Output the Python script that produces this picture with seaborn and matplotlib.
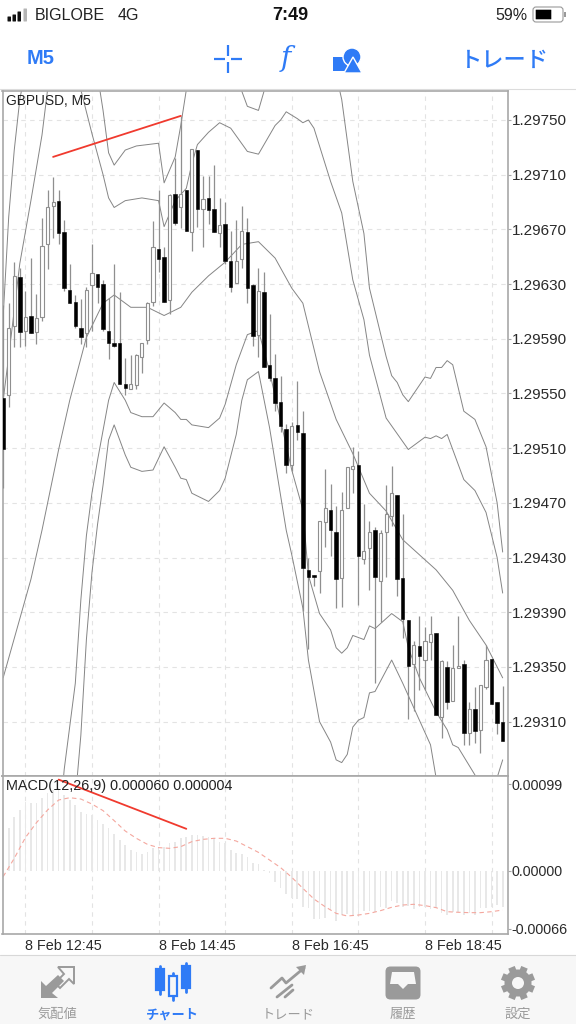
import matplotlib
matplotlib.use("Agg")
import matplotlib.pyplot as plt
import seaborn as sns
import numpy as np
import pandas as pd
from matplotlib.patches import Circle, FancyBboxPatch, Polygon, Rectangle

# candles, one entry per bar starting at bar -1; prices in points (1.29750 -> 29750)
bar_open = [29547, 29549, 29599, 29635, 29596, 29607, 29595, 29606, 29659, 29687, 29691, 29668, 29626, 29617, 29598, 29594,
            29629, 29637, 29630, 29596, 29587, 29587, 29557, 29553, 29556, 29577, 29589, 29617, 29656, 29650, 29618, 29696,
            29686, 29699, 29668, 29728, 29685, 29693, 29685, 29667, 29674, 29647, 29631, 29648, 29668, 29629, 29593, 29624,
            29571, 29561, 29544, 29524, 29498, 29527, 29521, 29421, 29417, 29420, 29456, 29465, 29449, 29415, 29466, 29495,
            29498, 29429, 29437, 29450, 29413, 29449, 29460, 29476, 29415, 29384, 29352, 29365, 29355, 29368, 29375, 29313,
            29350, 29325, 29349, 29352, 29302, 29319, 29304, 29335, 29356, 29324, 29310]
bar_high = [29615, 29616, 29646, 29642, 29625, 29649, 29623, 29678, 29699, 29708, 29699, 29677, 29645, 29622, 29619, 29628,
            29659, 29637, 29633, 29620, 29645, 29624, 29576, 29578, 29579, 29587, 29617, 29676, 29699, 29657, 29696, 29722,
            29753, 29699, 29729, 29728, 29709, 29709, 29717, 29693, 29690, 29669, 29677, 29687, 29678, 29630, 29642, 29639,
            29608, 29579, 29563, 29528, 29529, 29559, 29537, 29430, 29417, 29457, 29495, 29484, 29468, 29478, 29496, 29511,
            29508, 29469, 29457, 29452, 29450, 29483, 29497, 29476, 29462, 29384, 29369, 29387, 29379, 29387, 29375, 29355,
            29354, 29366, 29387, 29355, 29324, 29335, 29337, 29366, 29356, 29324, 29336]
bar_low = [29481, 29540, 29584, 29584, 29585, 29594, 29586, 29603, 29641, 29664, 29659, 29625, 29616, 29598, 29586, 29584,
           29596, 29616, 29596, 29575, 29584, 29557, 29549, 29553, 29553, 29565, 29586, 29614, 29639, 29617, 29608, 29673,
           29671, 29669, 29654, 29672, 29657, 29674, 29668, 29657, 29645, 29624, 29631, 29642, 29616, 29585, 29577, 29569,
           29559, 29537, 29522, 29492, 29493, 29516, 29391, 29363, 29409, 29404, 29438, 29431, 29393, 29394, 29466, 29477,
           29395, 29425, 29406, 29338, 29383, 29416, 29453, 29402, 29371, 29312, 29318, 29333, 29333, 29355, 29315, 29298,
           29319, 29325, 29349, 29293, 29293, 29294, 29287, 29334, 29323, 29301, 29296]
bar_close = [29509, 29598, 29636, 29595, 29606, 29594, 29605, 29658, 29686, 29690, 29667, 29627, 29616, 29599, 29591, 29626,
             29638, 29628, 29597, 29587, 29585, 29557, 29554, 29557, 29578, 29587, 29616, 29657, 29648, 29617, 29695, 29675,
             29696, 29669, 29729, 29685, 29692, 29684, 29668, 29673, 29647, 29628, 29647, 29669, 29627, 29592, 29625, 29569,
             29561, 29543, 29526, 29498, 29526, 29522, 29422, 29416, 29416, 29457, 29466, 29450, 29414, 29465, 29496, 29497,
             29431, 29435, 29449, 29416, 29448, 29462, 29477, 29414, 29385, 29351, 29366, 29358, 29369, 29374, 29315, 29354,
             29324, 29349, 29351, 29302, 29319, 29303, 29337, 29355, 29323, 29309, 29296]

# bands, read at the bars where the line bends
mid_bars = [-1, 4, 6, 9, 11, 14, 17, 19, 22, 25, 28, 31, 33, 36, 39, 42, 45, 48, 51, 53, 56, 59, 62, 65, 68, 71, 74, 77, 80, 83, 86, 89]
mid_pts = [29342, 29414, 29450, 29509, 29545, 29591, 29616, 29622, 29613, 29613, 29607, 29613, 29624, 29636, 29646, 29659,
           29661, 29649, 29627, 29616, 29566, 29531, 29506, 29477, 29464, 29443, 29432, 29421, 29406, 29384, 29366, 29342]
inner_up_bars = [-1, 0, 2, 4, 6, 7, 8, 11, 13, 15, 17, 18, 19, 21, 24, 27, 28, 30, 32, 33, 34, 36, 38, 40, 43, 45, 48, 49, 50,
                 52, 53, 54, 55, 58, 60, 62, 64, 65, 68, 72, 75, 76, 77, 78, 79, 82, 84, 86, 88, 89]
inner_up_pts = [29545, 29577, 29645, 29691, 29739, 29772, 29801, 29808, 29772, 29740, 29710, 29693, 29686, 29691, 29693, 29691,
                29672, 29691, 29700, 29718, 29732, 29741, 29748, 29744, 29727, 29725, 29746, 29750, 29756, 29751, 29748, 29750,
                29744, 29705, 29682, 29633, 29604, 29578, 29532, 29509, 29518, 29517, 29519, 29517, 29520, 29487, 29479, 29463,
                29430, 29404]
outer_up_bars = [-1, 0, 1, 2, 4, 14, 16, 17, 18, 19, 21, 23, 27, 28, 30, 31, 32, 33, 34, 41, 42, 43, 45, 46, 47, 58, 59, 60, 62,
                 64, 65, 68, 69, 70, 71, 72, 74, 75, 76, 77, 78, 79, 80, 82, 84, 86, 88, 89]
outer_up_pts = [29606, 29679, 29728, 29765, 29808, 29808, 29783, 29757, 29726, 29717, 29728, 29731, 29733, 29704, 29723, 29746,
                29772, 29795, 29808, 29808, 29771, 29760, 29757, 29771, 29808, 29808, 29783, 29765, 29705, 29667, 29627, 29577,
                29563, 29558, 29549, 29544, 29556, 29562, 29561, 29569, 29569, 29574, 29571, 29537, 29531, 29511, 29470, 29434]
inner_low_bars = [8, 10, 12, 13, 14, 15, 16, 18, 19, 21, 22, 24, 26, 28, 30, 31, 32, 33, 36, 38, 39, 41, 43, 45, 47, 51, 53, 54,
                  56, 58, 59, 60, 61, 62, 64, 65, 66, 69, 71, 72, 74, 77, 79, 80, 81, 84, 85]
inner_low_pts = [29180, 29275, 29338, 29399, 29446, 29477, 29501, 29545, 29558, 29545, 29536, 29533, 29533, 29543, 29536, 29531,
                 29531, 29527, 29525, 29532, 29542, 29571, 29593, 29596, 29566, 29494, 29465, 29417, 29389, 29377, 29364, 29360,
                 29364, 29373, 29370, 29380, 29378, 29389, 29383, 29364, 29342, 29317, 29304, 29293, 29291, 29271, 29260]
outer_low_bars = [11, 12, 13, 14, 15, 16, 17, 18, 19, 21, 22, 24, 26, 28, 30, 31, 32, 33, 36, 38, 39, 41, 42, 43, 45, 47, 50, 51,
                  53, 54, 56, 58, 59, 60, 61, 62, 63, 64, 65, 66, 69, 71, 73, 76, 77, 78, 79, 85, 87, 88, 89]
outer_low_pts = [29180, 29253, 29300, 29370, 29419, 29454, 29483, 29516, 29527, 29505, 29496, 29493, 29494, 29511, 29496, 29488,
                 29487, 29477, 29471, 29479, 29488, 29520, 29545, 29560, 29566, 29525, 29450, 29432, 29393, 29355, 29310, 29295,
                 29282, 29280, 29286, 29306, 29311, 29313, 29331, 29332, 29355, 29338, 29320, 29293, 29269, 29253, 29180, 29180,
                 29253, 29269, 29282]

# MACD histogram from bar 0 to bar 89, in 1e-5
macd_hist = [48.6, 61.8, 69.4, 78.9, 77, 77, 82.7, 88.4, 92.2, 94.1, 86.5, 80.8, 75.1, 67.5, 64.5, 63.7, 58, 53.5, 48.6, 41.7,
             35.3, 29.6, 23.9, 21.2, 19.3, 21.2, 25.8, 26.6, 27.7, 31.5, 33.4, 37.2, 38.3, 41, 41, 39.8, 38.3, 37.2, 33.4, 31.5,
             23.9, 20.1, 19.3, 16.3, 8.7, 7.6, 1.1, -2.7, -12.9, -19.7, -26.2, -30.3, -31.9, -40.6, -42.5, -54.6, -55, -53.9,
             -44.4, -56.5, -50.1, -49.3, -51.2, -50.1, -45.5, -45.5, -46.3, -40.6, -41.7, -34.1, -36.8, -40.6, -39.4, -43.2,
             -40.6, -41.3, -43.6, -42.5, -48.2, -50.1, -46.3, -47, -50.1, -48.2, -50.1, -42.5, -42.5, -40.6, -38.7, -40.6]
signal_bars = [-1, 1, 3, 5, 7, 9, 11, 13, 15, 17, 19, 21, 23, 25, 27, 29, 31, 33, 35, 37, 39, 41, 43, 45, 47, 49, 51, 53, 55, 57,
               59, 61, 63, 65, 67, 69, 71, 73, 75, 77, 79, 81, 83, 85, 87, 89]
signal_vals = [-6.4, 14.4, 37.9, 55, 69.4, 80.8, 83.4, 81.9, 76.2, 68.7, 57.3, 45.5, 37.2, 30.3, 26.6, 25.8, 27.7, 33.4, 36, 37.2,
               37.2, 34.1, 27.7, 21.2, 12.5, 3.8, -7.2, -19.7, -31.9, -40.6, -48.2, -51.2, -50.1, -48.2, -45.1, -41.3, -38.7,
               -37.9, -39.4, -41.7, -46.3, -47, -47.4, -47.4, -46.3, -44.4]

# hand drawn trend lines
trend_price_bars = [8, 31]
trend_price_pts = [29723, 29753]
trend_macd_bars = [9, 32]
trend_macd_vals = [104, 48]

price_ticks = [1.29750, 1.29710, 1.29670, 1.29630, 1.29590, 1.29550, 1.29510, 1.29470, 1.29430, 1.29390, 1.29350, 1.29310]
macd_ticks = [0.00099, 0.00000, -0.00066]
time_bars = [3, 27, 51, 75]
time_labels = ['8 Feb 12:45', '8 Feb 14:45', '8 Feb 16:45', '8 Feb 18:45']
grid_bars = [3, 15, 27, 39, 51, 63, 75, 87]

tab_labels = ['気配値', 'チャート', 'トレード', '履歴', '設定']
tab_centers = [57, 172, 288, 403, 518]

BLUE = '#2f7bf6'
TAB_GREY = '#9a9a9a'
FRAME = '#a8a8a8'
GRID = '#e3e3e3'

sns.set_theme(style='white')
plt.rcParams['font.family'] = ['Liberation Sans', 'Noto Sans CJK JP', 'DejaVu Sans']

W, H = 576, 1024
fig = plt.figure(figsize=(W / 100, H / 100), dpi=100)


def px_axes(x0, y0, x1, y1, **kw):
    return fig.add_axes([x0 / W, 1 - y1 / H, (x1 - x0) / W, (y1 - y0) / H], **kw)


def to_price(pts):
    return 1 + np.asarray(pts) / 1e5


# phone chrome sits behind everything
ui = px_axes(0, 0, W, H)
ui.set_xlim(0, W)
ui.set_ylim(H, 0)
ui.axis('off')
ui.add_patch(Rectangle((0, 955), W, 69, color='#f7f7f7', lw=0))
ui.plot([0, W], [955, 955], color='#d8d8d8', lw=0.8)
ui.plot([0, W], [89, 89], color='#dcdcdc', lw=0.8)

for k, bx in enumerate([8, 13, 18, 24]):
    h = [4, 6, 9, 12][k]
    ui.add_patch(FancyBboxPatch((bx, 21 - h), 2.5, h, boxstyle='round,pad=0.5', lw=0, color='#111111' if k < 3 else '#b5b5b5'))
ui.text(35, 15, 'BIGLOBE', fontsize=11.5, color='#222222', va='center')
ui.text(118, 15, '4G', fontsize=11.5, color='#222222', va='center')
ui.text(290, 15, '7:49', fontsize=13, color='#111111', fontweight='bold', ha='center', va='center')
ui.text(528, 15, '59%', fontsize=11.5, color='#222222', ha='right', va='center')
ui.add_patch(FancyBboxPatch((534, 8), 28, 13, boxstyle='round,pad=1,rounding_size=3', fc='white', ec='#999999', lw=0.8))
ui.add_patch(FancyBboxPatch((536, 10), 15, 9, boxstyle='round,pad=0.3', color='#000000', lw=0))
ui.add_patch(Rectangle((564, 12), 1.5, 5, color='#999999', lw=0))

ui.text(41, 59, 'M5', fontsize=14.5, color=BLUE, fontweight='bold', ha='center', va='center')
for seg in [((214, 59), (225, 59)), ((231, 59), (242, 59)), ((228, 45), (228, 56)), ((228, 62), (228, 73))]:
    ui.plot(*zip(*seg), color=BLUE, lw=1.6, solid_capstyle='butt')
ui.text(286, 59, 'f', fontsize=20, color=BLUE, style='italic', family='DejaVu Serif', ha='center', va='center')
ui.add_patch(Rectangle((333, 57), 14, 14, color=BLUE, lw=0))
ui.add_patch(Circle((352, 57), 9, fc=BLUE, ec='white', lw=1))
ui.add_patch(Polygon([(353, 57), (344, 73), (362, 73)], closed=True, fc=BLUE, ec='white', lw=1))
ui.text(504, 60, 'トレード', fontsize=16, color=BLUE, family=['Noto Sans CJK JP'], fontweight='medium', ha='center', va='center')

# tab bar
for name, cx in zip(tab_labels, tab_centers):
    ui.text(cx, 1015, name, fontsize=9.5, color=BLUE if name == 'チャート' else TAB_GREY,
            fontweight='bold' if name == 'チャート' else 'normal', ha='center', va='center')

# quotes icon
ui.add_patch(Polygon([(41, 998), (41, 981), (46, 986), (58, 975), (64, 981), (52, 993), (58, 998)], color=TAB_GREY, lw=0))
ui.add_patch(Polygon([(74, 967), (74, 984), (69, 979), (60, 988), (55, 983), (64, 974), (58, 967)], fc='none', ec=TAB_GREY, lw=1.4))
# chart icon
for cx, top, bot, filled in [(160, 969, 990, True), (173, 976, 996, False), (186, 966, 988, True)]:
    ui.plot([cx, cx], [top - 3, bot + 4], color=BLUE, lw=2)
    ui.add_patch(Rectangle((cx - 4, top), 8, bot - top, fc=BLUE if filled else '#f7f7f7', ec=BLUE, lw=1.6, zorder=3))
# trade icon
ui.plot([271, 282, 286, 304], [988, 978, 983, 968], color=TAB_GREY, lw=2)
ui.add_patch(Polygon([(296, 967), (306, 965), (304, 975)], color=TAB_GREY, lw=0))
ui.plot([277, 292], [997, 985], color=TAB_GREY, lw=2)
ui.plot([285, 293], [997, 990], color=TAB_GREY, lw=2)
# history icon
ui.add_patch(FancyBboxPatch((387, 968), 32, 30, boxstyle='round,pad=1.5,rounding_size=5', color=TAB_GREY, lw=0))
ui.add_patch(Polygon([(392, 972), (414, 972), (416, 984), (408, 984), (403, 989), (398, 984), (390, 984)], color='#f7f7f7', lw=0))
# settings icon
gear_angles = np.deg2rad(np.arange(0, 360, 45) + 22.5)
ui.add_patch(Circle((518, 983), 13.5, color=TAB_GREY, lw=0))
for a in gear_angles:
    ui.plot([518, 518 + 17 * np.cos(a)], [983, 983 + 17 * np.sin(a)], color=TAB_GREY, lw=5, solid_capstyle='butt')
ui.add_patch(Circle((518, 983), 6, color='#f7f7f7', lw=0, zorder=5))

# frame edges are set so that bar spacing is 5.55 px and 0.00040 is 54.7 px
XLIM = (-1.117, 89.96)
ax = px_axes(2.5, 91, 508, 776)
mx = px_axes(2.5, 776, 508, 934)

candles = pd.DataFrame({'bar': np.arange(-1, 90), 'open': to_price(bar_open), 'high': to_price(bar_high),
                        'low': to_price(bar_low), 'close': to_price(bar_close)})
candles['up'] = candles['close'] >= candles['open']
candles['body'] = (candles['close'] - candles['open']).abs()
candles['bottom'] = candles[['open', 'close']].min(axis=1)

bands = pd.concat([
    pd.DataFrame({'bar': inner_up_bars, 'price': to_price(inner_up_pts), 'band': 'inner_up'}),
    pd.DataFrame({'bar': outer_up_bars, 'price': to_price(outer_up_pts), 'band': 'outer_up'}),
    pd.DataFrame({'bar': mid_bars, 'price': to_price(mid_pts), 'band': 'mid'}),
    pd.DataFrame({'bar': inner_low_bars, 'price': to_price(inner_low_pts), 'band': 'inner_low'}),
    pd.DataFrame({'bar': outer_low_bars, 'price': to_price(outer_low_pts), 'band': 'outer_low'}),
])

for a in (ax, mx):
    a.set_xlim(*XLIM)
    for b in grid_bars:
        a.axvline(b, color=GRID, lw=0.8, ls=(0, (4, 4)), zorder=0)
    for s in a.spines.values():
        s.set_color(FRAME)
        s.set_linewidth(1.2)

ax.set_ylim(to_price(29270.2), to_price(29771.2))
for t in price_ticks:
    ax.axhline(t, color=GRID, lw=0.8, ls=(0, (4, 4)), zorder=0)

sns.lineplot(data=bands, x='bar', y='price', units='band', estimator=None, sort=False, color='#858585', lw=0.7, ax=ax, zorder=2)

ax.vlines(candles['bar'], candles['low'], candles['high'], color='#8f8f8f', lw=0.9, zorder=3)
up = candles[candles['up']]
down = candles[~candles['up']]
ax.bar(up['bar'], up['body'], bottom=up['bottom'], width=0.56, fc='white', ec='#8f8f8f', lw=0.8, zorder=4)
ax.bar(down['bar'], down['body'], bottom=down['bottom'], width=0.62, fc='black', ec='black', lw=0.4, zorder=4)

ax.plot(trend_price_bars, to_price(trend_price_pts), color='#f03a2e', lw=1.3, zorder=6)

ax.yaxis.tick_right()
ax.set_yticks(price_ticks)
ax.set_yticklabels([f'{t:.5f}' for t in price_ticks])
ax.tick_params(axis='y', length=2, width=0.8, color=FRAME, pad=1, labelsize=11, labelcolor='#2a2a2a')
ax.set_xticks([])
ax.set_xlabel('')
ax.set_ylabel('')
ax.text(0.0075, 0.995, 'GBPUSD, M5', transform=ax.transAxes, fontsize=9.9, color='#222222', va='top', ha='left', zorder=7)

# MACD panel, 87 px above zero is 0.00099
macd_scale = 0.00099 / 87
mx.set_ylim(-63 * macd_scale, 95 * macd_scale)
hist_bars = np.arange(0, 90)
mx.bar(hist_bars, np.array(macd_hist) * 1e-5, width=0.3, color='#e8e8e8', lw=0, zorder=1)
sns.lineplot(x=signal_bars, y=np.array(signal_vals) * 1e-5, color='#f4a79e', lw=0.8, ls=(0, (4, 3)), ax=mx, zorder=2, estimator=None)
mx.plot(trend_macd_bars, np.array(trend_macd_vals) * 1e-5, color='#f03a2e', lw=1.3, zorder=6)
mx.yaxis.tick_right()
mx.set_yticks(macd_ticks)
mx.set_yticklabels(['0.00099', '0.00000', '-0.00066'])
mx.tick_params(axis='y', length=2, width=0.8, color=FRAME, pad=0.5, labelsize=10.3, labelcolor='#2a2a2a')
mx.set_xticks(time_bars)
mx.set_xticklabels(time_labels, ha='left')
mx.tick_params(axis='x', length=3, width=0.8, color=FRAME, pad=0.8, labelsize=10.4, labelcolor='#2a2a2a')
mx.set_xlabel('')
mx.set_ylabel('')
mx.text(0.0075, 0.98, 'MACD(12,26,9) 0.000060 0.000004', transform=mx.transAxes, fontsize=10.4, color='#222222', va='top', ha='left', zorder=7)

fig.savefig('out.png', dpi=100)
